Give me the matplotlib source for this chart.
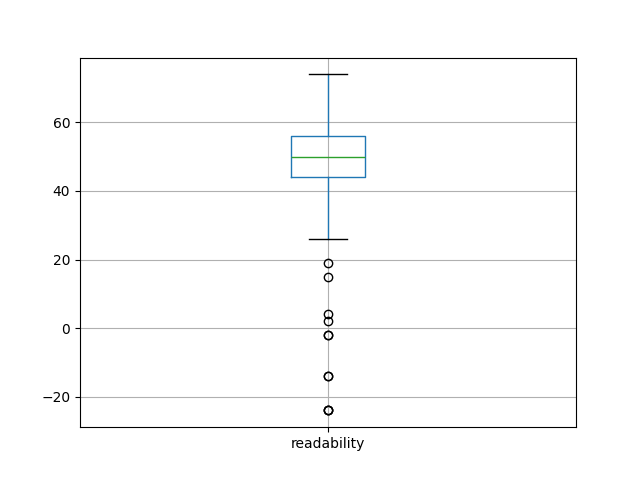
import pandas as pd
import matplotlib
matplotlib.use("Agg")
import matplotlib.pyplot as plt

# readability scores
outliers = [-24, -24, -24, -14, -14, -2, -2, 2, 4, 15, 19]
lower = [26, 33, 38, 41, 44]
mid_low = [45, 45, 46, 46, 47, 47, 48, 48, 48, 49, 49, 49, 50, 50, 50]
mid_high = [50, 51, 51, 52, 52, 53, 53, 53, 54, 54, 55, 55, 56, 56, 56]
upper = [57, 58, 59, 60, 61, 62, 63, 64, 65, 66, 67, 68, 70, 72, 74]

df = pd.DataFrame({"readability": outliers + lower + mid_low + mid_high + upper})

fig, ax = plt.subplots(figsize=(6.4, 4.8), dpi=100)
df.boxplot(column="readability", ax=ax)
fig.savefig("out.png")
